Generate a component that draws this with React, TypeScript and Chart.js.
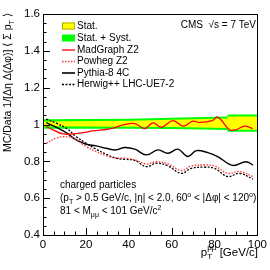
import React, { useEffect, useRef } from "react";
import { Chart, registerables } from "chart.js";

Chart.register(...registerables);

// ---- data ----
const madgraphX = [1.5, 4.7, 9.3, 14, 18.6, 23.3, 27.9, 32.6, 37.2, 42.8, 47.4, 51.3, 55.2, 60.6, 65.3, 69.9, 73, 79, 81.5, 87, 89.8, 94, 97.8];
const madgraphY = [0.989, 0.971, 0.949, 0.949, 0.956, 0.965, 0.971, 0.98, 0.998, 1.005, 0.978, 1.009, 0.985, 1.021, 0.991, 1.018, 1.011, 1.021, 1.04, 0.972, 0.971, 0.991, 0.978];

const powhegX = [1.5, 6.2, 9.3, 12.4, 15.5, 20.1, 24.8, 29.4, 34.1, 38.1, 42.8, 48.2, 52.9, 58.3, 64.5, 69.2, 75.3, 80, 86.2, 91.6, 98];
const powhegY = [0.898, 0.926, 0.934, 0.932, 0.916, 0.88, 0.853, 0.831, 0.817, 0.817, 0.808, 0.786, 0.798, 0.786, 0.75, 0.775, 0.78, 0.775, 0.735, 0.745, 0.717];

const pythiaX = [1.5, 6.2, 10.8, 15.5, 20.1, 24.8, 29.4, 34.1, 38.1, 42.8, 48.2, 53.6, 58.3, 62.9, 67.6, 71.5, 76.9, 81.5, 88.5, 94.7, 98];
const pythiaY = [1.01, 0.985, 0.956, 0.916, 0.893, 0.884, 0.871, 0.862, 0.875, 0.866, 0.835, 0.862, 0.844, 0.866, 0.826, 0.858, 0.847, 0.826, 0.778, 0.798, 0.78];

const herwigX = [1.5, 6.2, 10.8, 15.5, 20.1, 24.8, 29.4, 34.1, 38.1, 42.8, 48.2, 52.9, 58.3, 64.5, 69.2, 75.3, 80, 86.2, 91.6, 98];
const herwigY = [1.029, 1.007, 0.98, 0.934, 0.898, 0.866, 0.839, 0.817, 0.811, 0.805, 0.771, 0.79, 0.775, 0.735, 0.762, 0.768, 0.762, 0.717, 0.735, 0.703];

const bandX = [0, 40, 60, 86, 86, 100];
const bandCenter = [1.003, 1.004, 1.006, 1.007, 1.007, 1.007];
const statErr = [0.013, 0.016, 0.02, 0.026, 0.036, 0.036];
const systErr = [0.026, 0.027, 0.03, 0.037, 0.047, 0.047];

const xTickValues = [0, 20, 40, 60, 80, 100];
const yTickValues = [0.4, 0.6, 0.8, 1.0, 1.2, 1.4, 1.6];

const legendLabels = ["Stat.", "Stat. + Syst.", "MadGraph Z2", "Powheg Z2", "Pythia-8 4C", "Herwig++ LHC-UE7-2"];

const FONT = "'Liberation Sans', Arial, Helvetica, sans-serif";

type Part = { t: string; s?: "sub" | "sup" };

function richWidth(ctx: CanvasRenderingContext2D, parts: Part[], size: number) {
  let w = 0;
  for (const p of parts) {
    const fs = p.s ? size * 0.7 : size;
    ctx.font = `${fs}px ${FONT}`;
    w += ctx.measureText(p.t).width;
  }
  return w;
}

function drawRich(ctx: CanvasRenderingContext2D, x: number, y: number, parts: Part[], size: number) {
  ctx.textBaseline = "alphabetic";
  ctx.textAlign = "left";
  let cx = x;
  for (const p of parts) {
    const fs = p.s ? size * 0.7 : size;
    ctx.font = `${fs}px ${FONT}`;
    const dy = p.s === "sub" ? size * 0.3 : p.s === "sup" ? -size * 0.42 : 0;
    ctx.fillText(p.t, cx, y + dy);
    cx += ctx.measureText(p.t).width;
  }
  return cx;
}

const pts = (xs: number[], ys: number[]) => xs.map((x, i) => ({ x, y: ys[i] }));

const decorPlugin = {
  id: "decor",
  afterDraw(chart: any) {
    const ctx: CanvasRenderingContext2D = chart.ctx;
    const ca = chart.chartArea;
    const xs = chart.scales.x;
    const ys = chart.scales.y;
    ctx.save();
    ctx.strokeStyle = "#000";
    ctx.lineWidth = 1;
    // ticks
    ctx.beginPath();
    for (let v = 0; v <= 100.001; v += 5) {
      const px = Math.round(xs.getPixelForValue(v)) + 0.5;
      const len = Math.abs(v % 20) < 1e-6 ? 7 : 3.5;
      ctx.moveTo(px, ca.bottom);
      ctx.lineTo(px, ca.bottom - len);
    }
    for (let k = 0; k <= 24; k++) {
      const v = 0.4 + k * 0.05;
      const py = Math.round(ys.getPixelForValue(v)) + 0.5;
      const len = k % 4 === 0 ? 7 : 3.5;
      ctx.moveTo(ca.left, py);
      ctx.lineTo(ca.left + len, py);
    }
    ctx.stroke();
    // frame
    ctx.strokeRect(Math.round(ca.left) + 0.5, Math.round(ca.top) + 0.5, Math.round(ca.right - ca.left), Math.round(ca.bottom - ca.top));

    // legend
    const lx0 = 62, lx1 = 75, tx = 77;
    const rows = [26, 38, 50, 61.5, 73, 84.5];
    ctx.fillStyle = "#ffff00";
    ctx.fillRect(lx0, rows[0] - 3.5, lx1 - lx0, 7);
    ctx.strokeStyle = "#b0b000";
    ctx.strokeRect(lx0 + 0.5, rows[0] - 3.5 + 0.5, lx1 - lx0 - 1, 6);
    ctx.fillStyle = "#00ff00";
    ctx.fillRect(lx0, rows[1] - 3.5, lx1 - lx0, 7);
    const lineStyles: [string, number[]][] = [
      ["#ff0000", []],
      ["#ff3030", [1.5, 1.5]],
      ["#000000", []],
      ["#000000", [2, 1.5]],
    ];
    lineStyles.forEach(([c, d], i) => {
      ctx.strokeStyle = c;
      ctx.lineWidth = i === 2 ? 1.6 : 1.3;
      ctx.setLineDash(d);
      ctx.beginPath();
      ctx.moveTo(lx0, rows[i + 2]);
      ctx.lineTo(lx1, rows[i + 2]);
      ctx.stroke();
    });
    ctx.setLineDash([]);
    ctx.fillStyle = "#000";
    ctx.font = `10px ${FONT}`;
    ctx.textBaseline = "middle";
    ctx.textAlign = "left";
    legendLabels.forEach((l, i) => ctx.fillText(l, tx, rows[i]));

    // CMS label
    ctx.textAlign = "right";
    ctx.fillText("CMS  \u221As = 7 TeV", 256, 25);
    ctx.textAlign = "left";

    // annotations
    drawRich(ctx, 60, 188, [{ t: "charged particles" }], 10);
    drawRich(ctx, 60, 201, [
      { t: "(p" }, { t: "T", s: "sub" }, { t: " > 0.5 GeV/c, |\u03B7| < 2.0, 60" }, { t: "o", s: "sup" },
      { t: " < |\u0394\u03C6| < 120" }, { t: "o", s: "sup" }, { t: ")" },
    ], 10);
    drawRich(ctx, 60, 214, [
      { t: "81 < M" }, { t: "\u03BC\u03BC", s: "sub" }, { t: " < 101 GeV/c" }, { t: "2", s: "sup" },
    ], 10);

    // x title (sub and sup stacked)
    const tSize = 11.5;
    ctx.textBaseline = "alphabetic";
    ctx.font = `${tSize}px ${FONT}`;
    const pW = ctx.measureText("p").width;
    ctx.font = `${tSize * 0.7}px ${FONT}`;
    const supW = Math.max(ctx.measureText("T").width, ctx.measureText("\u03BC\u03BC").width);
    ctx.font = `${tSize}px ${FONT}`;
    const restW = ctx.measureText(" [GeV/c]").width;
    const x0 = 258 - (pW + supW + restW);
    const by = 256;
    ctx.fillText("p", x0, by);
    ctx.font = `${tSize * 0.7}px ${FONT}`;
    ctx.fillText("T", x0 + pW, by + 3);
    ctx.fillText("\u03BC\u03BC", x0 + pW, by - 6);
    ctx.font = `${tSize}px ${FONT}`;
    ctx.fillText(" [GeV/c]", x0 + pW + supW, by);

    // y title
    const yParts: Part[] = [
      { t: "MC/Data 1/[\u0394\u03B7 \u0394(\u0394\u03C6)] \u27E8 \u03A3 p" }, { t: "T", s: "sub" }, { t: " \u27E9" },
    ];
    const ySize = 10.5;
    const yw = richWidth(ctx, yParts, ySize);
    ctx.save();
    ctx.translate(11, 13 + yw);
    ctx.rotate(-Math.PI / 2);
    drawRich(ctx, 0, 0, yParts, ySize);
    ctx.restore();

    ctx.restore();
  },
};

export default function App() {
  const ref = useRef<HTMLCanvasElement | null>(null);
  useEffect(() => {
    document.body.style.margin = "0";
    const canvas = ref.current!;
    const green = (s: number) => pts(bandX, bandX.map((_, i) => bandCenter[i] + s * systErr[i]));
    const yellow = (s: number) => pts(bandX, bandX.map((_, i) => bandCenter[i] + s * statErr[i]));
    const chart = new Chart(canvas, {
      type: "line",
      data: {
        datasets: [
          { data: green(1), borderWidth: 0, pointRadius: 0, fill: "+1", backgroundColor: "#00ff00", borderColor: "#00ff00", order: 10, tension: 0 },
          { data: green(-1), borderWidth: 0, pointRadius: 0, fill: false, borderColor: "#00ff00", order: 10, tension: 0 },
          { data: yellow(1), borderWidth: 0, pointRadius: 0, fill: "+1", backgroundColor: "#ffff00", borderColor: "#ffff00", order: 9, tension: 0 },
          { data: yellow(-1), borderWidth: 0, pointRadius: 0, fill: false, borderColor: "#ffff00", order: 9, tension: 0 },
          { data: pts(herwigX, herwigY), borderColor: "#000000", borderWidth: 1.3, borderDash: [2, 1.5], pointRadius: 0, fill: false, tension: 0.4, order: 4 },
          { data: pts(pythiaX, pythiaY), borderColor: "#000000", borderWidth: 1.4, pointRadius: 0, fill: false, tension: 0.4, order: 3 },
          { data: pts(powhegX, powhegY), borderColor: "#ff3030", borderWidth: 1.3, borderDash: [1.5, 1.5], pointRadius: 0, fill: false, tension: 0.4, order: 2 },
          { data: pts(madgraphX, madgraphY), borderColor: "#ff0000", borderWidth: 1.3, pointRadius: 0, fill: false, tension: 0.4, order: 1 },
        ],
      },
      options: {
        responsive: false,
        animation: false,
        layout: { padding: { top: 14, right: 12, left: 0, bottom: 0 } },
        plugins: { legend: { display: false }, tooltip: { enabled: false }, title: { display: false } },
        scales: {
          x: {
            type: "linear",
            min: 0,
            max: 100,
            grid: { display: false, drawTicks: false },
            border: { display: false },
            afterBuildTicks: (s: any) => { s.ticks = xTickValues.map((v) => ({ value: v })); },
            afterFit: (s: any) => { s.height = 35; },
            ticks: { color: "#000", font: { family: FONT, size: 11.5 }, padding: 3, maxRotation: 0, autoSkip: false, callback: (v: any) => String(v) },
          },
          y: {
            type: "linear",
            min: 0.4,
            max: 1.6,
            grid: { display: false, drawTicks: false },
            border: { display: false },
            afterBuildTicks: (s: any) => { s.ticks = yTickValues.map((v) => ({ value: v })); },
            afterFit: (s: any) => { s.width = 43; },
            ticks: {
              color: "#000",
              font: { family: FONT, size: 11.5 },
              padding: 3,
              autoSkip: false,
              callback: (v: any) => (Math.abs(v - 1) < 1e-9 ? "1" : Number(v).toFixed(1)),
            },
          },
        },
      },
      plugins: [decorPlugin],
    } as any);
    return () => chart.destroy();
  }, []);
  return (
    <div style={{ position: "absolute", left: 0, top: 0, width: 270, height: 270, background: "#fff" }}>
      <canvas ref={ref} width={270} height={270} style={{ width: 270, height: 270 }} />
    </div>
  );
}
